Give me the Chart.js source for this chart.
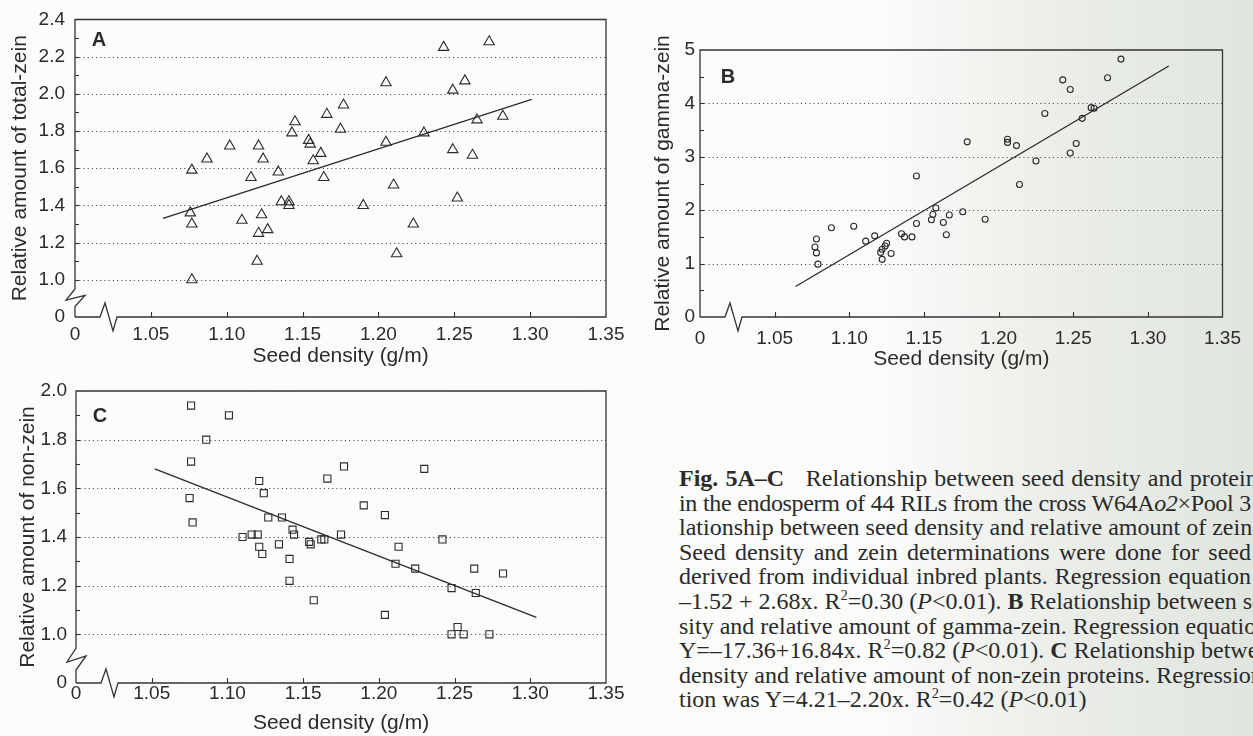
<!DOCTYPE html>
<html>
<head>
<meta charset="utf-8">
<script src="https://cdn.jsdelivr.net/npm/chart.js@4"></script>
<style>
  html, body { margin: 0; padding: 0; }
  body {
    width: 1253px; height: 736px; overflow: hidden; position: relative;
    background: linear-gradient(to right, #fcfcfa 0px, #fbfbf9 880px, #e9ece7 1080px, #e1e5e0 1253px);
  }
  canvas { position: absolute; }
  #caption {
    position: absolute; left: 679px; top: 466px; width: 572px;
    font-family: 'Liberation Serif', 'Times New Roman', serif;
    font-size: 24px; line-height: 24.6px; color: #2a2a2a;
  }
  #caption div { white-space: nowrap; text-align: justify; text-align-last: justify; }
  #caption div.tight { letter-spacing: -0.35px; }
  #caption div.wide { word-spacing: 1.2px; text-align-last: left; }
  #caption div.open { text-align-last: left; }
  #caption sup { font-size: 0.6em; line-height: 0; vertical-align: 0.6em; }
</style>
</head>
<body>
<canvas id="chartA" width="640" height="372" style="left:0;top:0"></canvas>
<canvas id="chartB" width="623" height="372" style="left:630px;top:0"></canvas>
<canvas id="chartC" width="640" height="364" style="left:0;top:372px"></canvas>

<div id="caption">
  <div class="wide"><b>Fig. 5A–C</b>&nbsp;&nbsp; Relationship between seed density and proteins</div>
  <div class="tight">in the endosperm of 44 RILs from the cross W64A<i>o2</i>×Pool 3</div>
  <div>lationship between seed density and relative amount of zein</div>
  <div>Seed density and zein determinations were done for seed</div>
  <div>derived from individual inbred plants. Regression equation</div>
  <div class="open">–1.52 + 2.68x. R<sup>2</sup>=0.30 (<i>P</i>&lt;0.01). <b>B</b> Relationship between seed den-</div>
  <div class="open">sity and relative amount of gamma-zein. Regression equation was</div>
  <div class="open">Y=–17.36+16.84x. R<sup>2</sup>=0.82 (<i>P</i>&lt;0.01). <b>C</b> Relationship between seed</div>
  <div class="open">density and relative amount of non-zein proteins. Regression equa-</div>
  <div class="open">tion was Y=4.21–2.20x. R<sup>2</sup>=0.42 (<i>P</i>&lt;0.01)</div>
</div>

<script>
// A: total zein
const xA = [1.077,1.076,1.077,1.077,1.087,1.102,1.110,1.116,1.121,1.124,1.123,1.121,1.127,1.120,1.134,1.136,1.141,1.141,1.143,1.145,1.154,1.155,1.157,1.162,1.164,1.166,1.175,1.177,1.190,1.205,1.205,1.210,1.212,1.223,1.230,1.243,1.249,1.249,1.252,1.257,1.262,1.265,1.273,1.282];
const yA = [1.59,1.36,1.30,1.00,1.65,1.72,1.32,1.55,1.72,1.65,1.35,1.25,1.27,1.10,1.58,1.42,1.42,1.40,1.79,1.85,1.75,1.73,1.64,1.68,1.55,1.89,1.81,1.94,1.40,1.74,2.06,1.51,1.14,1.30,1.79,2.25,1.70,2.02,1.44,2.07,1.67,1.86,2.28,1.88];
const fitAx = [1.058, 1.301];
const fitAy = [1.33, 1.97];

// B: gamma zein
const xB = [1.078,1.077,1.078,1.079,1.088,1.103,1.111,1.117,1.121,1.122,1.122,1.124,1.125,1.128,1.135,1.137,1.142,1.145,1.145,1.155,1.156,1.158,1.163,1.165,1.167,1.176,1.179,1.191,1.206,1.206,1.212,1.214,1.225,1.231,1.243,1.248,1.248,1.252,1.256,1.262,1.264,1.273,1.282];
const yB = [1.46,1.31,1.20,0.99,1.67,1.70,1.42,1.52,1.21,1.08,1.27,1.33,1.38,1.19,1.56,1.50,1.50,2.64,1.75,1.82,1.92,2.04,1.77,1.54,1.91,1.97,3.28,1.83,3.33,3.27,3.21,2.48,2.92,3.81,4.44,4.26,3.07,3.25,3.72,3.92,3.91,4.48,4.83];
const fitBx = [1.064, 1.314];
const fitBy = [0.57, 4.70];

// C: non-zein
const xC = [1.076,1.101,1.086,1.076,1.075,1.077,1.110,1.116,1.120,1.121,1.124,1.121,1.123,1.127,1.136,1.134,1.143,1.144,1.141,1.141,1.154,1.155,1.157,1.162,1.164,1.166,1.175,1.177,1.190,1.204,1.204,1.213,1.211,1.224,1.230,1.242,1.248,1.248,1.252,1.256,1.263,1.264,1.273,1.282];
const yC = [1.94,1.90,1.80,1.71,1.56,1.46,1.40,1.41,1.41,1.63,1.58,1.36,1.33,1.48,1.48,1.37,1.43,1.41,1.31,1.22,1.38,1.37,1.14,1.39,1.39,1.64,1.41,1.69,1.53,1.49,1.08,1.36,1.29,1.27,1.68,1.39,1.19,1.00,1.03,1.00,1.27,1.17,1.00,1.25];
const fitCx = [1.052, 1.304];
const fitCy = [1.68, 1.07];

const xTitle = 'Seed density (g/m)';
const ink = '#2b2b2b';

Chart.defaults.font.family = "'Liberation Sans', Arial, sans-serif";
Chart.defaults.color = ink;

const pts = (xs, ys) => xs.map((v, i) => ({ x: v, y: ys[i] }));

// frame with axis breaks, dotted grid, inside ticks and panel letter
const framePlugin = {
  id: 'frame',
  beforeDatasetsDraw(chart, args, o) {
    const { ctx, chartArea: a, scales: { x, y } } = chart;
    const L = a.left, R = a.right, T = a.top, B = a.bottom;
    ctx.save();

    // dotted grid lines
    ctx.strokeStyle = '#555';
    ctx.lineWidth = 1;
    ctx.setLineDash([1.2, 3]);
    y.ticks.forEach(t => {
      if (t.value <= y.min + 1e-6 || t.value >= y.max - 1e-6) return;
      const py = Math.round(y.getPixelForValue(t.value)) + 0.5;
      ctx.beginPath(); ctx.moveTo(L, py); ctx.lineTo(R, py); ctx.stroke();
    });
    ctx.setLineDash([]);

    // inside ticks
    ctx.strokeStyle = '#333';
    ctx.lineWidth = 1.1;
    const vals = y.ticks.map(t => t.value);
    for (let i = 0; i < vals.length; i++) {
      const v = vals[i];
      const list = [v];
      if (i < vals.length - 1) list.push((v + vals[i + 1]) / 2);
      list.forEach(m => {
        if (m < o.minorFrom - 1e-6 || m >= y.max - 1e-6) return;
        const py = Math.round(y.getPixelForValue(m)) + 0.5;
        ctx.beginPath(); ctx.moveTo(L, py); ctx.lineTo(L + 4, py); ctx.stroke();
      });
    }
    x.ticks.forEach(t => {
      if (t.value <= x.min + 1e-6 || t.value >= x.max - 1e-6) return;
      const px = Math.round(x.getPixelForValue(t.value)) + 0.5;
      ctx.beginPath(); ctx.moveTo(px, B); ctx.lineTo(px, B - 5); ctx.stroke();
    });

    // frame
    ctx.strokeStyle = '#333';
    ctx.lineWidth = 1.3;
    ctx.lineJoin = 'miter';
    ctx.beginPath();
    ctx.moveTo(L, B);
    if (o.yBreak) {
      const k = o.yBreak;
      ctx.lineTo(L, B - 13 * k);
      ctx.lineTo(L + 10, B - 27 * k);
      ctx.lineTo(L - 9, B - 21 * k);
      ctx.lineTo(L, B - 35 * k);
    }
    ctx.lineTo(L, T);
    ctx.lineTo(R, T);
    ctx.lineTo(R, B);
    ctx.lineTo(L + 42, B);
    ctx.lineTo(L + 38, B + 14);
    ctx.lineTo(L + 30, B - 14);
    ctx.lineTo(L + 25, B);
    ctx.lineTo(L, B);
    ctx.stroke();

    // panel letter
    ctx.fillStyle = ink;
    ctx.font = "bold 20px 'Liberation Sans', Arial, sans-serif";
    ctx.textAlign = 'center';
    ctx.textBaseline = 'middle';
    ctx.fillText(o.letter, L + o.dx, T + o.dy);
    ctx.restore();
  }
};

function makePanel(id, cfg) {
  const canvas = document.getElementById(id);
  const H = canvas.height;
  return new Chart(canvas, {
    type: 'scatter',
    data: {
      datasets: [
        {
          data: pts(cfg.xs, cfg.ys),
          pointStyle: cfg.marker,
          pointRadius: cfg.radius,
          borderWidth: 1.1,
          borderColor: ink,
          backgroundColor: 'rgba(0,0,0,0)'
        },
        {
          data: pts(cfg.fx, cfg.fy),
          showLine: true,
          pointRadius: 0,
          borderWidth: 1.3,
          borderColor: ink
        }
      ]
    },
    options: {
      responsive: false,
      animation: false,
      events: [],
      layout: { padding: { left: 0, top: cfg.top, right: canvas.width - cfg.right, bottom: 0 } },
      plugins: {
        legend: { display: false },
        tooltip: { enabled: false },
        frame: cfg.frame
      },
      scales: {
        x: {
          type: 'linear', min: 1.0, max: 1.35,
          afterFit: s => { s.height = H - cfg.bottom; },
          grid: { display: false, drawTicks: false },
          border: { display: false },
          ticks: {
            stepSize: 0.05, autoSkip: false, maxRotation: 0,
            padding: cfg.xPad,
            font: { size: 19, lineHeight: 1 },
            callback: v => Math.abs(v - 1) < 1e-6 ? '0' : v.toFixed(2)
          },
          title: { display: true, text: xTitle, font: { size: 21 }, padding: { top: 0, bottom: cfg.xTitlePad } }
        },
        y: {
          min: cfg.yMin, max: cfg.yMax,
          afterFit: s => { s.width = cfg.left; },
          grid: { display: false, drawTicks: false },
          border: { display: false },
          ticks: {
            stepSize: cfg.yStep, autoSkip: false,
            padding: cfg.yPad,
            font: { size: 19, lineHeight: 1 },
            callback: cfg.yLabel
          },
          title: { display: true, text: cfg.yTitle, font: { size: 21 }, padding: { top: cfg.yTitlePad, bottom: 0 } }
        }
      }
    },
    plugins: [framePlugin]
  });
}

const zeroFirst = min => v => Math.abs(v - min) < 1e-6 ? '0' : v.toFixed(1);

makePanel('chartA', {
  xs: xA, ys: yA, fx: fitAx, fy: fitAy,
  marker: 'triangle', radius: 6,
  left: 75, right: 606, top: 18, bottom: 317,
  yMin: 0.8, yMax: 2.4, yStep: 0.2, yLabel: zeroFirst(0.8),
  yTitle: 'Relative amount of total-zein',
  xPad: 8, xTitlePad: 3, yPad: 10, yTitlePad: 8,
  frame: { letter: 'A', dx: 24, dy: 21, yBreak: 0.8, minorFrom: 1.0 }
});

makePanel('chartB', {
  xs: xB, ys: yB, fx: fitBx, fy: fitBy,
  marker: 'circle', radius: 3,
  left: 70, right: 602, top: 50, bottom: 317,
  yMin: 0, yMax: 5, yStep: 1, yLabel: v => String(v),
  yTitle: 'Relative amount of gamma-zein',
  xPad: 12, xTitlePad: 0, yPad: 5, yTitlePad: 21,
  frame: { letter: 'B', dx: 28, dy: 27, yBreak: 0, minorFrom: 0.5 }
});

makePanel('chartC', {
  xs: xC, ys: yC, fx: fitCx, fy: fitCy,
  marker: 'rect', radius: 5,
  left: 76, right: 606, top: 19, bottom: 311,
  yMin: 0.8, yMax: 2.0, yStep: 0.2, yLabel: zeroFirst(0.8),
  yTitle: 'Relative amount of non-zein',
  xPad: 1, xTitlePad: 0, yPad: 9, yTitlePad: 16,
  frame: { letter: 'C', dx: 24, dy: 25, yBreak: 1, minorFrom: 1.0 }
});
</script>
</body>
</html>
